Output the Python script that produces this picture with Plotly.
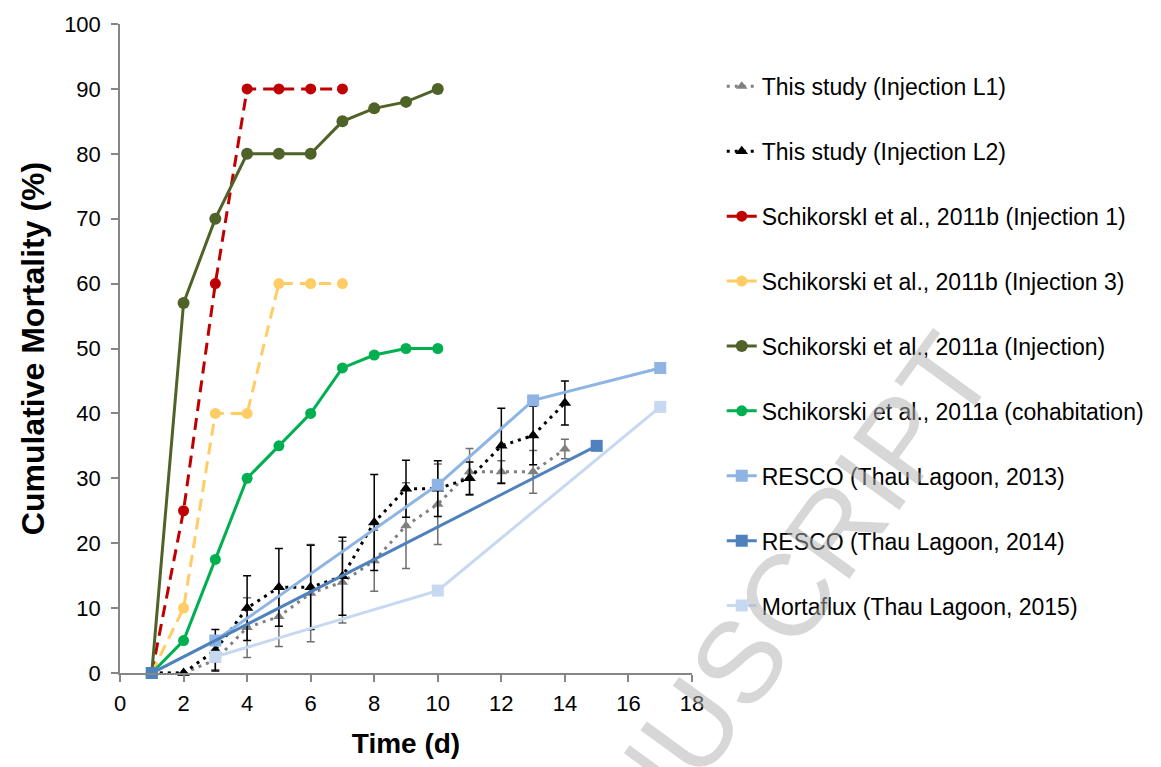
import plotly.graph_objects as go

# ---------------- data ----------------
days_study = [1, 2, 3, 4, 5, 6, 7, 8, 9, 10, 11, 12, 13, 14]
l1_mort = [0, 0, 2, 7, 8.7, 12.3, 14, 17.3, 22.7, 26, 31, 31, 31, 34.5]
l1_err = [0, 0, 1.5, 4.6, 4.6, 7.5, 6.3, 4.7, 6.6, 6.2, 3.6, 1.7, 3.3, 1.5]
l2_mort = [0, 0, 3.5, 10, 13.2, 13.2, 14.9, 23.2, 28.4, 28.4, 30, 35, 36.6, 41.6]
l2_err = [0, 0, 3.2, 5, 6, 6.5, 6, 7.4, 4.4, 4.3, 2.5, 5.8, 4.5, 3.4]

days_2011b = [1, 2, 3, 4, 5, 6, 7]
inj1_2011b = [0, 25, 60, 90, 90, 90, 90]
inj3_2011b = [0, 10, 40, 40, 60, 60, 60]

days_2011a = [1, 2, 3, 4, 5, 6, 7, 8, 9, 10]
inj_2011a = [0, 57, 70, 80, 80, 80, 85, 87, 88, 90]
cohab_2011a = [0, 5, 17.5, 30, 35, 40, 47, 49, 50, 50]

days_resco13 = [1, 3, 10, 13, 17]
resco13 = [0, 5, 29, 42, 47]
days_resco14 = [1, 15]
resco14 = [0, 35]
days_morta15 = [3, 10, 17]
morta15 = [2.5, 12.7, 41]

names = [
    "This study (Injection L1)",
    "This study (Injection L2)",
    "SchikorskI et al., 2011b (Injection 1)",
    "Schikorski et al., 2011b (Injection 3)",
    "Schikorski et al., 2011a (Injection)",
    "Schikorski et al., 2011a (cohabitation)",
    "RESCO (Thau Lagoon, 2013)",
    "RESCO (Thau Lagoon, 2014)",
    "Mortaflux (Thau Lagoon, 2015)",
]

x_ticks = [0, 2, 4, 6, 8, 10, 12, 14, 16, 18]
y_ticks = [0, 10, 20, 30, 40, 50, 60, 70, 80, 90, 100]

FONT = "Liberation Sans, Arial, sans-serif"

fig = go.Figure()


def add(x, y, name, color, dash, symbol, msize, group, err=None, errcolor=None):
    kw = {}
    if err is not None:
        kw["error_y"] = dict(type="data", array=err, symmetric=True,
                             color=errcolor, thickness=1.5, width=4)
    fig.add_trace(go.Scatter(
        x=x, y=y, name=name, mode="lines+markers",
        line=dict(color=color, width=3, dash=dash),
        marker=dict(color=color, size=msize, symbol=symbol),
        cliponaxis=False, legendgroup=group, **kw))


add(days_study, l1_mort, names[0], "#808080", "3px,5px", "triangle-up", 10, "g1", l1_err, "#6f6f6f")
add(days_study, l2_mort, names[1], "#000000", "3px,5px", "triangle-up", 11, "g2", l2_err, "#000000")
add(days_2011b, inj1_2011b, names[2], "#C00000", "12px,7px", "circle", 11, "g3")
add(days_2011b, inj3_2011b, names[3], "#FFCC66", "12px,7px", "circle", 11, "g4")
add(days_2011a, inj_2011a, names[4], "#4F6228", "solid", "circle", 12, "g5")
add(days_2011a, cohab_2011a, names[5], "#00B050", "solid", "circle", 11, "g6")
add(days_resco13, resco13, names[6], "#8EB4E3", "solid", "square", 12, "g7")
add(days_resco14, resco14, names[7], "#4F81BD", "solid", "square", 12, "g8")
add(days_morta15, morta15, names[8], "#C6D9F1", "solid", "square", 12, "g9")

axis_common = dict(
    showline=True, linecolor="#868686", linewidth=1.5,
    ticks="outside", ticklen=7, tickcolor="#868686", tickwidth=1.5,
    showgrid=False, zeroline=False, mirror=False,
    tickfont=dict(family=FONT, size=22, color="#000000"),
)

fig.update_xaxes(
    range=[0, 18], tickvals=x_ticks, ticktext=[str(v) for v in x_ticks],
    ticklabelstandoff=3,
    title=dict(text="<b>Time (d)</b>", font=dict(family=FONT, size=28, color="#000000"), standoff=18),
    **axis_common)
fig.update_yaxes(
    range=[0, 100], tickvals=y_ticks, ticktext=[str(v) for v in y_ticks],
    ticklabelstandoff=6,
    title=dict(text="<b>Cumulative Mortality (%)</b>", font=dict(family=FONT, size=32, color="#000000"), standoff=10),
    **axis_common)

fig.update_layout(
    width=1161, height=767, autosize=False,
    margin=dict(l=120, r=468, t=21, b=94, pad=0),
    plot_bgcolor="white", paper_bgcolor="white",
    font=dict(family=FONT, color="#000000"),
    legend=dict(
        x=1.052, y=0.937, xanchor="left", yanchor="top",
        font=dict(family=FONT, size=23, color="#000000"),
        tracegroupgap=32, bgcolor="rgba(0,0,0,0)", borderwidth=0,
        itemwidth=30,
    ),
    annotations=[dict(
        text="MANUSCRIPT", xref="paper", yref="paper", x=1.087, y=0.021,
        xanchor="center", yanchor="middle", showarrow=False, textangle=-54,
        font=dict(family=FONT, size=116, color="rgba(175,175,175,0.5)"),
    )],
)

fig.write_html("out.html")
